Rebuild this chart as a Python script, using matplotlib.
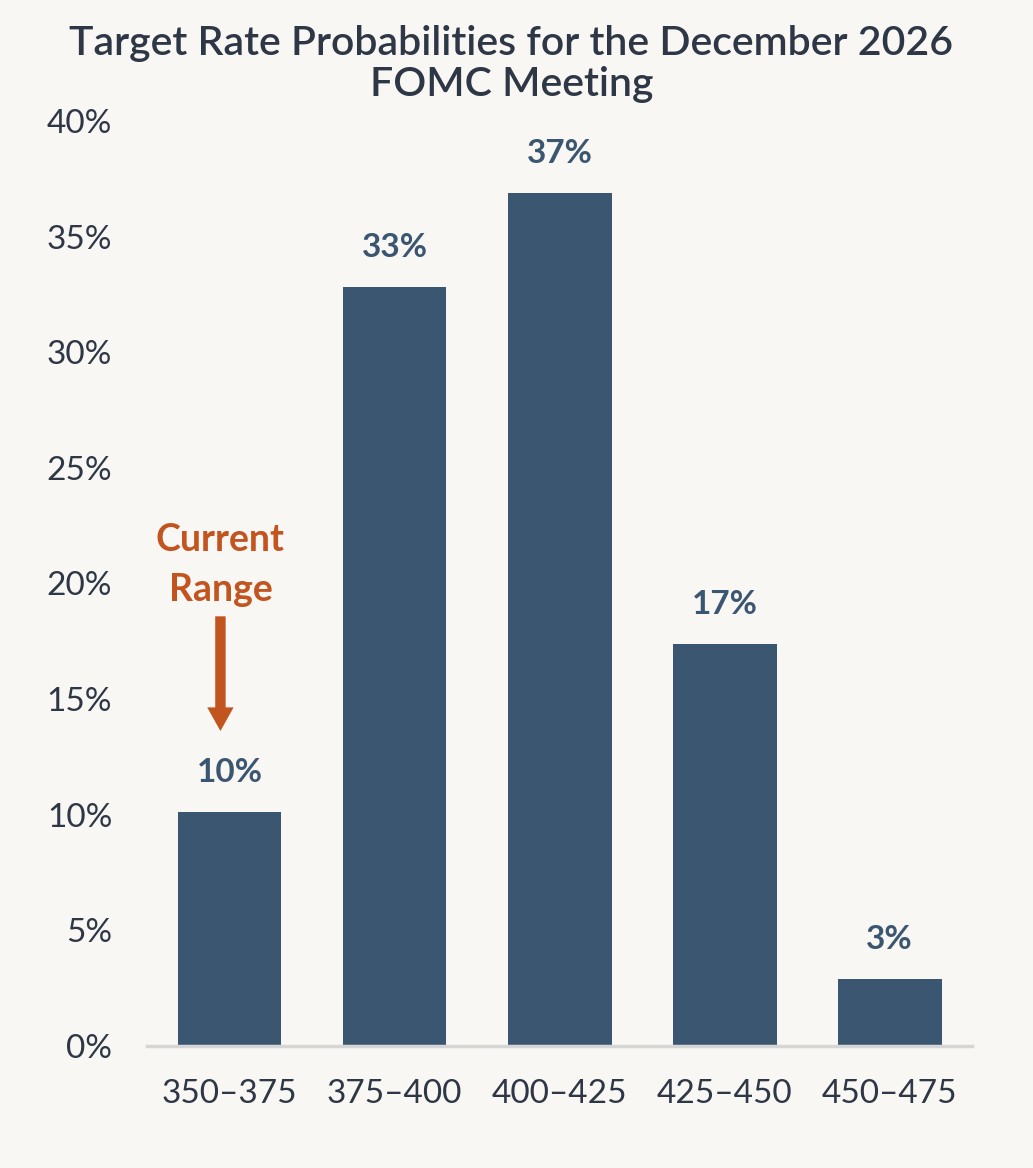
"""Target rate probabilities for the December 2026 FOMC meeting."""

import matplotlib

matplotlib.use("Agg")
import matplotlib.pyplot as plt  # noqa: E402

RANGES = ["350–375", "375–400", "400–425", "425–450", "450–475"]
PROBABILITIES = [10.1, 32.8, 36.9, 17.4, 2.9]
VALUE_LABELS = ["10%", "33%", "37%", "17%", "3%"]
Y_TICKS = [0, 5, 10, 15, 20, 25, 30, 35, 40]
CURRENT_INDEX = 0

BACKGROUND = "#f9f7f3"
BAR_COLOR = "#3b5670"
TEXT_COLOR = "#2e3746"
ACCENT = "#c2541f"

plt.rcParams["font.family"] = ["Lato", "DejaVu Sans"]

fig = plt.figure(figsize=(10.33, 11.68), dpi=100, facecolor=BACKGROUND)
axis = fig.add_axes([0.1423, 0.1045, 0.7987, 0.7919], facecolor=BACKGROUND)

positions = list(range(len(RANGES)))
axis.bar(positions, PROBABILITIES, width=0.63, color=BAR_COLOR, zorder=2)
for index, value in enumerate(PROBABILITIES):
    axis.annotate(
        VALUE_LABELS[index],
        (index, value),
        xytext=(0, 18),
        textcoords="offset points",
        ha="center",
        va="bottom",
        fontsize=24,
        fontweight="bold",
        color=BAR_COLOR,
    )

axis.set_xlim(-0.5, len(RANGES) - 0.5)
axis.set_ylim(0, 40)
axis.set_xticks(positions)
axis.set_xticklabels(RANGES)
axis.set_yticks(Y_TICKS)
axis.set_yticklabels([f"{tick}%" for tick in Y_TICKS])
axis.tick_params(axis="both", length=0, labelsize=24, colors=TEXT_COLOR)
axis.tick_params(axis="y", pad=25)
axis.tick_params(axis="x", pad=24)
axis.spines[["top", "right", "left"]].set_visible(False)
axis.spines["bottom"].set_color("#d6d6d6")
axis.spines["bottom"].set_linewidth(2.5)
axis.spines["bottom"].set_zorder(3)

# "Current Range" callout above the first bar
current = PROBABILITIES[CURRENT_INDEX]
callout_x = CURRENT_INDEX - 0.055
axis.annotate(
    "",
    xy=(callout_x, current + 3.4),
    xytext=(callout_x, current + 8.6),
    arrowprops=dict(
        arrowstyle="simple,head_width=1.9,head_length=1.7,tail_width=0.75",
        color=ACCENT,
        lw=0,
    ),
)
axis.text(
    callout_x,
    current + 8.9,
    "Current\nRange",
    ha="center",
    va="bottom",
    fontsize=27,
    fontweight="bold",
    color=ACCENT,
    linespacing=1.55,
)

fig.text(
    0.495,
    0.979,
    "Target Rate Probabilities for the December 2026\nFOMC Meeting",
    ha="center",
    va="top",
    fontsize=29.5,
    fontweight="semibold",
    color=TEXT_COLOR,
    linespacing=1.15,
)

fig.savefig("out.png", dpi=100, facecolor=BACKGROUND)
